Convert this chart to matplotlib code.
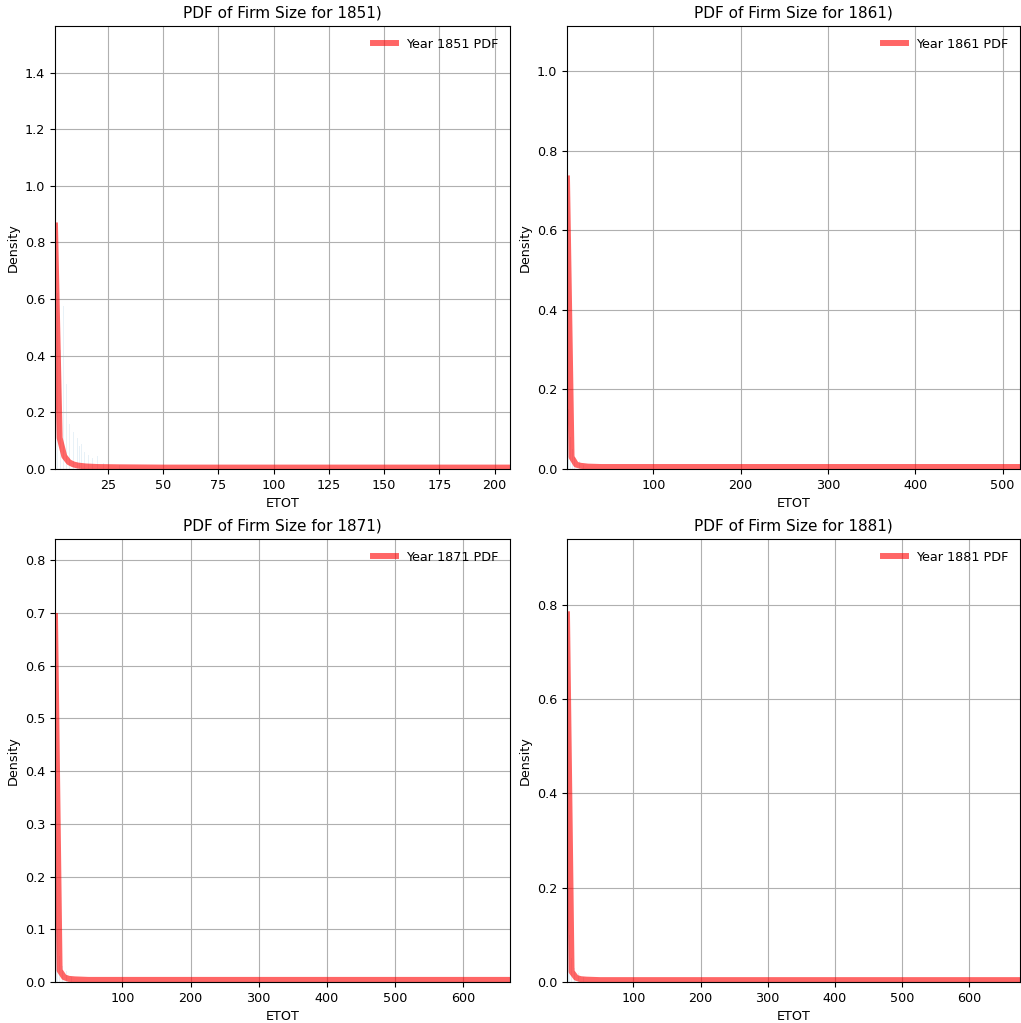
import matplotlib
matplotlib.use("Agg")
import matplotlib.pyplot as plt

years = [1851, 1861, 1871, 1881]

# fitted pdf
pdf_x_1851 = [1, 3.1, 5.2, 7.3, 9.4, 11.5, 15, 20, 30, 50, 100, 207]
pdf_y_1851 = [0.86, 0.11, 0.045, 0.024, 0.016, 0.012, 0.009, 0.007, 0.006, 0.005, 0.005, 0.005]
pdf_x_1861 = [1, 6.2, 11.5, 16.7, 25, 40, 100, 200, 520]
pdf_y_1861 = [0.73, 0.03, 0.011, 0.008, 0.006, 0.005, 0.005, 0.005, 0.005]
pdf_x_1871 = [1, 7.75, 14.5, 21.3, 30, 50, 100, 300, 669]
pdf_y_1871 = [0.694, 0.022, 0.009, 0.006, 0.005, 0.004, 0.004, 0.004, 0.004]
pdf_x_1881 = [1, 7.8, 14.6, 21.4, 30, 50, 100, 300, 676]
pdf_y_1881 = [0.78, 0.022, 0.009, 0.006, 0.005, 0.004, 0.004, 0.004, 0.004]

# faint histogram bars (bin centre, density)
hist_x_1851 = [1, 2, 3.4, 4.8, 6.1, 7.6, 9.2, 11, 12, 13.2, 14.5, 16, 18, 20.4, 23, 30]
hist_y_1851 = [1.49, 0.62, 0.42, 0.575, 0.30, 0.16, 0.13, 0.11, 0.08, 0.09, 0.06, 0.05, 0.04, 0.045, 0.02, 0.015]
hist_x_1861 = [1, 2, 3, 5, 7, 10, 15, 20]
hist_y_1861 = [1.06, 0.3, 0.15, 0.08, 0.05, 0.03, 0.02, 0.01]
hist_x_1871 = [1, 3, 5, 8, 12, 18, 25]
hist_y_1871 = [0.80, 0.2, 0.1, 0.05, 0.03, 0.02, 0.01]
hist_x_1881 = [1, 3, 5, 8, 12, 18, 25]
hist_y_1881 = [0.895, 0.2, 0.1, 0.05, 0.03, 0.02, 0.01]

pdf_x = [pdf_x_1851, pdf_x_1861, pdf_x_1871, pdf_x_1881]
pdf_y = [pdf_y_1851, pdf_y_1861, pdf_y_1871, pdf_y_1881]
hist_x = [hist_x_1851, hist_x_1861, hist_x_1871, hist_x_1881]
hist_y = [hist_y_1851, hist_y_1861, hist_y_1871, hist_y_1881]
bar_w = [0.45, 1.1, 1.4, 1.4]

plt.rcParams['font.size'] = 9.2
plt.rcParams['axes.titlesize'] = 11

fig = plt.figure(figsize=(10.21, 10.23), dpi=100)
W, H = 1021.0, 1023.0
# axes boxes in pixels: left, top, right, bottom
boxes = [(55, 26, 510, 469), (567, 26, 1020, 469),
         (55, 539, 510, 982), (567, 539, 1020, 982)]

for i, yr in enumerate(years):
    l, t, r, b = boxes[i]
    ax = fig.add_axes([l / W, 1 - b / H, (r - l) / W, (b - t) / H])
    ax.bar(hist_x[i], hist_y[i], width=bar_w[i], color='C0', alpha=0.1)
    ax.plot(pdf_x[i], pdf_y[i], 'r-', lw=4.3, alpha=0.6, label='Year %d PDF' % yr)
    ax.set_xlim(pdf_x[i][0], pdf_x[i][-1])
    ax.set_title('PDF of Firm Size for %d)' % yr)
    ax.set_xlabel('ETOT')
    ax.set_ylabel('Density')
    ax.legend(loc='upper right', frameon=False, handlelength=1.8)
    ax.grid(True)

fig.savefig('out.png', dpi=100)
